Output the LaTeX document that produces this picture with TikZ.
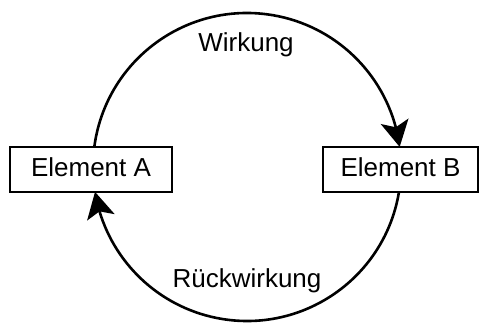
\documentclass[tikz,border=0pt]{standalone}
\usepackage{fontspec}
\setmainfont{Liberation Sans}
\usetikzlibrary{arrows.meta,bending}
\tikzset{
  elem/.style={draw, line width=2.6pt, minimum height=45pt, inner sep=0pt,
    font=\fontsize{26}{30}\selectfont, text height=19pt, text depth=6pt},
  lbl/.style={font=\fontsize{26}{30}\selectfont, anchor=base},
  flow/.style={line width=2.6pt, -{Stealth[length=26pt, width=28pt, inset=6pt, flex]}}
}
\begin{document}
\begin{tikzpicture}[x=1pt,y=1pt]
\useasboundingbox (0,0) rectangle (480,322);
% centre of the feedback loop
\coordinate (c) at (247,155);
\node[elem, minimum width=162pt] (A) at (91,152.5) {Element A};
\node[elem, minimum width=155pt] (B) at (400.5,152.5) {Element B};
% upper arc: A acts on B
\draw[flow] ([shift={(172.5:154)}]c) arc[start angle=172.5, end angle=7.5, radius=154];
% lower arc: B feeds back to A
\draw[flow] ([shift={(-9.3:154)}]c) arc[start angle=-9.3, end angle=-170.7, radius=154];
\node[lbl] (w) at (246,270) {Wirkung};
\node[lbl] (r) at (247,35) {Rückwirkung};
\end{tikzpicture}
\end{document}
